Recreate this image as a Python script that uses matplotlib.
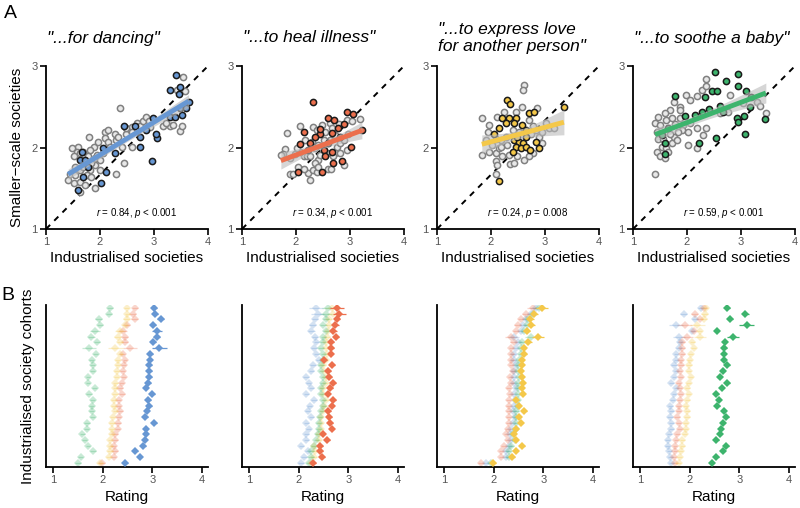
import numpy as np
import matplotlib
matplotlib.use('Agg')
import matplotlib.pyplot as plt

plt.rcParams['font.family'] = ['Liberation Sans', 'DejaVu Sans']
plt.rcParams['mathtext.fontset'] = 'custom'
plt.rcParams['mathtext.it'] = 'Liberation Sans:italic'
plt.rcParams['mathtext.rm'] = 'Liberation Sans'

# ---------------- data ----------------
titles = ['"...for dancing"', '"...to heal illness"',
          '"...to express love\nfor another person"', '"...to soothe a baby"']
stats = [r'$r$ = 0.84, $p$ < 0.001', r'$r$ = 0.34, $p$ < 0.001',
         r'$r$ = 0.24, $p$ = 0.008', r'$r$ = 0.59, $p$ < 0.001']
colors = ['#6797d3', '#ec6f4d', '#f4c84a', '#3db46d']

# panel A: songs of the target type (hi) and the other songs (lo)
dance_hi_x = [3.40, 3.30, 3.48, 3.46, 3.64, 3.48, 3.30, 3.39, 3.51, 3.60, 2.99, 2.86, 2.74, 3.05, 3.04,
              2.65, 2.44, 2.74, 2.96, 2.28, 2.06, 2.12, 2.01, 1.66, 1.63, 1.72, 1.78, 1.69, 1.60]
dance_hi_y = [2.89, 2.71, 2.74, 2.66, 2.56, 2.49, 2.37, 2.38, 2.40, 2.48, 2.36, 2.22, 2.13, 2.12, 2.17,
              2.26, 2.26, 2.01, 1.83, 1.93, 1.99, 1.70, 1.56, 1.94, 1.85, 1.85, 1.76, 1.64, 1.48]
dance_lo_x = [3.54, 3.42, 3.57, 3.30, 3.48, 2.37, 2.28, 2.09, 2.09, 2.30, 2.44, 2.30, 1.90, 1.80, 1.60,
              1.48, 1.57, 1.51, 1.63, 1.88, 1.97, 1.81, 1.94, 2.00, 1.91, 2.00, 1.81, 1.63, 1.54, 1.44,
              1.41, 1.51, 1.63, 1.72, 1.91, 1.63, 2.15, 2.19, 2.34, 2.49, 2.59, 2.68, 2.74, 2.80, 2.86,
              2.90, 2.93, 3.17, 3.23, 3.51, 3.36, 2.49, 2.59, 2.40, 2.59, 2.15, 2.06, 1.78, 1.69, 1.84,
              1.69, 1.54, 1.75, 1.84]
dance_lo_y = [2.86, 2.71, 2.69, 2.26, 2.20, 2.49, 2.17, 2.19, 2.12, 2.09, 1.81, 1.67, 1.87, 2.13, 2.01,
              1.99, 1.95, 1.89, 1.93, 2.01, 2.07, 1.97, 1.91, 1.85, 1.79, 1.72, 1.72, 1.72, 1.76, 1.68,
              1.60, 1.56, 1.58, 1.54, 1.50, 1.46, 2.07, 2.01, 2.13, 2.17, 2.25, 2.30, 2.26, 2.32, 2.38,
              2.32, 2.25, 2.26, 2.30, 2.26, 2.28, 2.24, 2.19, 2.01, 2.01, 2.22, 1.93, 1.89, 1.95, 1.81,
              1.76, 1.66, 1.66, 1.64]

heal_hi_x = [2.32, 2.60, 2.71, 2.94, 3.06, 3.22, 2.89, 2.77, 2.66, 2.44, 2.35, 2.14, 2.07, 2.26, 2.23,
             2.51, 2.60, 2.66, 2.54, 2.69, 2.48, 2.04, 2.85, 3.02, 2.44, 2.81]
heal_hi_y = [2.56, 2.36, 2.34, 2.43, 2.41, 2.22, 2.29, 2.24, 2.18, 2.17, 2.13, 2.19, 2.04, 2.05, 1.97,
             1.97, 2.05, 1.95, 1.89, 1.81, 1.70, 1.70, 1.83, 2.01, 2.23, 2.13]
heal_lo_x = [1.84, 1.80, 1.75, 1.89, 1.98, 1.88, 1.95, 2.04, 2.26, 2.23, 2.32, 2.38, 2.41, 2.60, 2.64,
             2.88, 2.75, 2.81, 2.72, 2.57, 2.44, 2.35, 2.14, 2.07, 2.20, 2.32, 2.38, 2.48, 2.54, 2.63,
             2.66, 2.72, 2.79, 2.94, 3.03, 3.18, 2.97, 2.88, 2.94, 2.07, 2.17, 2.29, 2.41, 2.51, 2.63,
             2.01, 2.26, 2.35, 2.41, 2.14, 2.69, 2.81, 1.72]
heal_lo_y = [2.18, 1.98, 1.92, 1.87, 1.92, 1.68, 1.68, 1.76, 1.60, 1.69, 1.72, 1.70, 1.85, 1.74, 1.74,
             1.79, 2.01, 2.05, 1.93, 1.93, 1.91, 1.99, 1.89, 1.95, 1.89, 2.25, 2.21, 2.28, 2.19, 2.30,
             2.24, 2.15, 2.29, 2.34, 2.32, 2.35, 2.17, 2.09, 1.97, 2.26, 2.09, 2.07, 2.03, 2.09, 2.09,
             1.99, 1.89, 1.81, 1.76, 1.74, 1.89, 1.93, 1.91]

love_hi_x = [2.30, 2.35, 3.35, 2.70, 2.80, 2.21, 2.33, 2.46, 2.27, 2.43, 2.58, 2.64, 2.15, 2.06, 2.43,
             2.52, 2.60, 2.46, 2.55, 2.64, 2.73, 2.89, 2.83, 2.40, 2.15, 2.64, 2.49]
love_hi_y = [2.58, 2.53, 2.50, 2.42, 2.44, 2.36, 2.36, 2.36, 2.30, 2.30, 2.28, 2.21, 2.24, 2.17, 2.09,
             2.07, 2.05, 2.01, 1.99, 2.01, 1.97, 1.99, 2.07, 1.95, 1.59, 2.13, 2.13]
love_lo_x = [2.61, 2.60, 1.83, 1.83, 1.96, 2.09, 2.15, 2.09, 2.12, 2.09, 2.36, 2.61, 2.77, 2.95, 2.83,
             3.07, 3.01, 2.86, 2.58, 2.46, 2.24, 2.12, 1.96, 1.94, 2.09, 2.18, 2.27, 2.30, 2.21, 2.33,
             2.49, 2.43, 2.70, 2.89, 2.74, 2.52, 2.70, 2.77, 2.02, 2.18, 2.95, 3.17, 1.90, 2.40]
love_lo_y = [2.77, 2.71, 2.36, 1.91, 1.95, 1.93, 1.99, 1.83, 1.79, 1.68, 1.80, 1.85, 1.93, 2.05, 2.21,
             2.24, 2.30, 2.48, 2.50, 2.44, 2.44, 2.38, 2.28, 2.19, 2.11, 2.09, 2.13, 2.03, 1.89, 1.91,
             1.89, 1.81, 1.89, 2.13, 2.17, 2.19, 2.34, 2.26, 2.03, 2.01, 2.19, 2.24, 2.09, 2.21]

baby_hi_x = [2.52, 2.94, 2.73, 2.94, 1.78, 2.46, 2.55, 2.33, 3.10, 3.19, 2.61, 2.67, 2.41, 2.27, 2.15,
             1.96, 2.92, 2.95, 3.06, 3.17, 3.44, 3.07, 2.53, 2.22, 1.59, 1.53, 1.65, 1.59]
baby_hi_y = [2.93, 2.90, 2.82, 2.75, 2.63, 2.69, 2.69, 2.62, 2.69, 2.62, 2.51, 2.43, 2.47, 2.44, 2.40,
             2.39, 2.36, 2.31, 2.39, 2.50, 2.35, 2.17, 2.12, 2.06, 2.05, 2.15, 2.24, 1.92]
baby_lo_x = [1.41, 2.35, 1.98, 2.06, 2.18, 2.27, 2.36, 2.80, 3.29, 3.35, 3.46, 3.04, 1.75, 1.87, 1.69,
             1.59, 1.47, 1.41, 1.50, 1.62, 1.72, 1.87, 1.78, 1.93, 2.06, 1.90, 2.02, 2.18, 2.36, 2.30,
             2.02, 2.19, 1.44, 1.47, 1.53, 1.62, 1.72, 1.44, 1.50, 1.59, 1.65, 1.56, 1.75, 1.81, 1.69,
             1.84, 2.61, 2.76, 1.87]
baby_lo_y = [1.67, 2.84, 2.65, 2.58, 2.63, 2.71, 2.75, 2.64, 2.56, 2.51, 2.42, 2.54, 2.56, 2.50, 2.46,
             2.42, 2.37, 2.30, 2.28, 2.34, 2.36, 2.36, 2.29, 2.28, 2.30, 2.22, 2.19, 2.24, 2.24, 2.15,
             2.03, 1.99, 2.19, 2.11, 2.01, 1.99, 2.05, 1.95, 1.89, 1.87, 1.95, 2.11, 2.13, 2.09, 2.17,
             2.19, 2.42, 2.43, 2.46]

scatter_hi = [(dance_hi_x, dance_hi_y), (heal_hi_x, heal_hi_y),
              (love_hi_x, love_hi_y), (baby_hi_x, baby_hi_y)]
scatter_lo = [(dance_lo_x, dance_lo_y), (heal_lo_x, heal_lo_y),
              (love_lo_x, love_lo_y), (baby_lo_x, baby_lo_y)]

# panel B: mean rating per industrialised cohort (top row first),
# for dance / healing / love / lullaby songs, one block per rated function
rate_dancing = {
    'dance': [3.04, 3.06, 3.17, 3.02, 3.10, 3.09, 3.01, 3.14, 2.96, 2.95, 2.94, 2.94, 2.94, 2.92,
              2.87, 2.99, 2.92, 2.94, 2.89, 2.86, 3.04, 2.87, 2.87, 2.85, 2.82, 2.66, 2.75, 2.45],
    'heal': [2.65, 2.62, 2.65, 2.50, 2.40, 2.45, 2.45, 2.55, 2.40, 2.45, 2.42, 2.40, 2.42, 2.38,
             2.35, 2.38, 2.32, 2.32, 2.35, 2.32, 2.30, 2.30, 2.25, 2.25, 2.22, 2.25, 2.22, 1.98],
    'love': [2.48, 2.50, 2.48, 2.45, 2.35, 2.30, 2.35, 2.25, 2.35, 2.30, 2.30, 2.28, 2.28, 2.25,
             2.25, 2.25, 2.22, 2.22, 2.25, 2.20, 2.18, 2.18, 2.18, 2.15, 2.15, 2.15, 2.12, 1.95],
    'baby': [2.15, 2.13, 1.92, 1.95, 1.85, 1.77, 1.88, 1.72, 1.86, 1.78, 1.80, 1.80, 1.70, 1.70,
             1.84, 1.72, 1.80, 1.78, 1.78, 1.80, 1.68, 1.67, 1.58, 1.63, 1.70, 1.80, 1.55, 1.50],
}
rate_healing = {
    'dance': [2.35, 2.38, 2.32, 2.28, 2.25, 2.32, 2.35, 2.30, 2.35, 2.40, 2.28, 2.25, 2.15, 2.20,
              2.25, 2.15, 2.30, 2.22, 2.18, 2.25, 2.15, 2.20, 2.15, 2.15, 2.05, 2.18, 2.10, 2.05],
    'heal': [2.78, 2.82, 2.77, 2.74, 2.70, 2.75, 2.66, 2.65, 2.65, 2.52, 2.67, 2.60, 2.62, 2.70,
             2.64, 2.59, 2.70, 2.67, 2.60, 2.62, 2.64, 2.67, 2.49, 2.58, 2.43, 2.43, 2.47, 2.28],
    'love': [2.68, 2.70, 2.62, 2.62, 2.60, 2.58, 2.55, 2.55, 2.58, 2.55, 2.50, 2.52, 2.55, 2.55,
             2.48, 2.50, 2.55, 2.52, 2.48, 2.45, 2.45, 2.45, 2.40, 2.40, 2.30, 2.32, 2.30, 2.25],
    'baby': [2.60, 2.55, 2.55, 2.50, 2.55, 2.50, 2.48, 2.45, 2.50, 2.50, 2.45, 2.45, 2.50, 2.48,
             2.45, 2.45, 2.50, 2.50, 2.45, 2.42, 2.40, 2.40, 2.38, 2.35, 2.30, 2.25, 2.25, 2.20],
}
rate_love = {
    'dance': [2.85, 2.75, 2.65, 2.60, 2.55, 2.40, 2.50, 2.45, 2.40, 2.40, 2.45, 2.40, 2.40, 2.40,
              2.45, 2.40, 2.42, 2.40, 2.38, 2.42, 2.38, 2.35, 2.32, 2.35, 2.30, 2.25, 2.25, 1.85],
    'heal': [2.80, 2.65, 2.55, 2.48, 2.45, 2.35, 2.40, 2.35, 2.35, 2.35, 2.35, 2.38, 2.33, 2.35,
             2.30, 2.33, 2.30, 2.30, 2.30, 2.30, 2.30, 2.28, 2.25, 2.28, 2.20, 2.15, 2.15, 1.75],
    'love': [2.98, 2.82, 2.74, 2.76, 2.67, 2.89, 2.70, 2.61, 2.62, 2.57, 2.57, 2.55, 2.57, 2.59,
             2.57, 2.59, 2.45, 2.51, 2.61, 2.51, 2.55, 2.45, 2.40, 2.45, 2.57, 2.45, 2.37, 1.99],
    'baby': [2.92, 2.80, 2.70, 2.68, 2.62, 2.75, 2.58, 2.55, 2.55, 2.52, 2.50, 2.50, 2.52, 2.50,
             2.50, 2.50, 2.48, 2.48, 2.45, 2.45, 2.45, 2.45, 2.38, 2.42, 2.35, 2.30, 2.30, 1.95],
}
rate_baby = {
    'dance': [2.22, 1.88, 2.10, 1.72, 2.05, 1.78, 1.80, 1.78, 1.72, 1.72, 1.68, 1.72, 1.68, 1.62,
              1.72, 1.68, 1.65, 1.60, 1.62, 1.60, 1.62, 1.62, 1.58, 1.55, 1.55, 1.58, 1.60, 1.62],
    'heal': [2.28, 2.10, 2.20, 1.90, 2.08, 1.95, 1.85, 1.85, 1.85, 1.82, 1.82, 1.80, 1.82, 1.78,
             1.80, 1.82, 1.80, 1.78, 1.78, 1.75, 1.78, 1.80, 1.75, 1.72, 1.70, 1.70, 1.68, 1.70],
    'love': [2.32, 2.30, 2.28, 2.15, 2.20, 2.20, 2.05, 2.08, 2.02, 2.00, 1.98, 1.98, 2.02, 1.98,
             1.95, 1.98, 1.95, 1.92, 1.95, 1.95, 1.92, 1.92, 1.90, 1.85, 1.85, 1.82, 1.80, 1.78],
    'baby': [2.76, 3.12, 2.81, 3.15, 2.55, 2.88, 2.71, 2.70, 2.69, 2.69, 2.76, 2.67, 2.61, 2.76,
             2.65, 2.54, 2.59, 2.56, 2.69, 2.74, 2.67, 2.63, 2.61, 2.54, 2.74, 2.67, 2.54, 2.45],
}
# half-width of the error bars per cohort, one list per rated function
err_dancing = [0.06, 0.06, 0.07, 0.06, 0.10, 0.07, 0.06, 0.15, 0.05, 0.05, 0.05, 0.05, 0.05, 0.05,
               0.05, 0.06, 0.05, 0.05, 0.05, 0.05, 0.06, 0.05, 0.05, 0.05, 0.05, 0.06, 0.05, 0.06]
err_healing = [0.14, 0.13, 0.06, 0.07, 0.07, 0.06, 0.05, 0.06, 0.05, 0.05, 0.06, 0.05, 0.06, 0.05,
               0.05, 0.05, 0.06, 0.05, 0.05, 0.05, 0.05, 0.05, 0.05, 0.05, 0.05, 0.05, 0.06, 0.06]
err_love = [0.12, 0.07, 0.07, 0.07, 0.07, 0.12, 0.07, 0.05, 0.05, 0.05, 0.05, 0.05, 0.05, 0.05,
            0.05, 0.05, 0.05, 0.05, 0.06, 0.05, 0.05, 0.05, 0.05, 0.05, 0.06, 0.05, 0.05, 0.06]
err_baby = [0.05, 0.07, 0.06, 0.15, 0.05, 0.12, 0.05, 0.05, 0.05, 0.05, 0.06, 0.05, 0.05, 0.05,
            0.05, 0.05, 0.05, 0.05, 0.05, 0.06, 0.05, 0.05, 0.05, 0.05, 0.05, 0.05, 0.05, 0.05]

ratings = [rate_dancing, rate_healing, rate_love, rate_baby]
errors = [err_dancing, err_healing, err_love, err_baby]
song_types = ['dance', 'heal', 'love', 'baby']


def fit_with_band(x, y):
    # linear fit with a 95% confidence band for the mean
    x = np.asarray(x)
    y = np.asarray(y)
    coef = np.polyfit(x, y, 1)
    X = np.vander(x, 2)
    resid = y - X @ coef
    s2 = np.sum(resid ** 2) / (len(x) - 2)
    cov = s2 * np.linalg.inv(X.T @ X)
    xs = np.linspace(x.min(), x.max(), 100)
    Xs = np.vander(xs, 2)
    ys = Xs @ coef
    se = np.sqrt(np.einsum('ij,jk,ik->i', Xs, cov, Xs))
    return xs, ys, 1.96 * se


def style_axis(ax):
    for side in ['top', 'right']:
        ax.spines[side].set_visible(False)
    for side in ['left', 'bottom']:
        ax.spines[side].set_linewidth(1.3)
    ax.tick_params(length=4, width=1.2, labelsize=8, labelcolor='#555555', pad=2)


W, H = 800, 508
fig = plt.figure(figsize=(8, 5.08), dpi=100)
lefts = [46, 242, 437, 633]

for i in range(4):
    # ---- panel A ----
    ax = fig.add_axes([lefts[i] / W, 1 - 229 / H, 162 / W, 163 / H])
    style_axis(ax)
    ax.set_xlim(1, 4)
    ax.set_ylim(1, 3)
    ax.set_xticks([1, 2, 3, 4])
    ax.set_yticks([1, 2, 3])
    ax.plot([1, 4.03], [1, 3.02], ls=(0, (3, 3)), color='black', lw=1.4, clip_on=False, zorder=1)

    lx, ly = scatter_lo[i]
    hx, hy = scatter_hi[i]
    ax.scatter(lx, ly, s=20, facecolor='#e8e8e8', edgecolor='#808080', lw=1.1, zorder=2)
    ax.scatter(hx, hy, s=20, facecolor=colors[i], edgecolor='#1a1a1a', lw=1.1, zorder=3)

    xs, ys, band = fit_with_band(lx + hx, ly + hy)
    ax.fill_between(xs, ys - band, ys + band, color='#bbbbbb', alpha=0.6, lw=0, zorder=4)
    ax.plot(xs, ys, color=colors[i], lw=3.5, solid_capstyle='butt', zorder=5)

    ax.text(0.56, 0.1, stats[i], transform=ax.transAxes, ha='center', va='center', fontsize=7)
    fig.text((lefts[i] + 1) / W, 1 - 38 / H, titles[i], ha='left', va='center',
             fontsize=12.5, style='italic', linespacing=1.1)
    ax.set_xlabel('Industrialised societies', fontsize=11, labelpad=3)
    if i == 0:
        ax.set_ylabel('Smaller\u2212scale societies', fontsize=11, labelpad=5)

    # ---- panel B ----
    bx = fig.add_axes([lefts[i] / W, 1 - 467 / H, 162 / W, 162 / H])
    style_axis(bx)
    bx.set_xlim(0.85, 4.13)
    bx.set_xticks([1, 2, 3, 4])
    bx.set_yticks([])
    n_rows = len(errors[i])
    rows = np.arange(n_rows)
    bx.set_ylim(n_rows - 0.3, -0.5)
    for j, kind in enumerate(song_types):
        main = (j == i)
        bx.errorbar(ratings[i][kind], rows, xerr=errors[i], fmt='D', ms=4, mew=0,
                    color=colors[j], ecolor=colors[j], elinewidth=0.9,
                    alpha=1.0 if main else 0.28, zorder=5 if main else 2)
    bx.set_xlabel('Rating', fontsize=11, labelpad=3)
    if i == 0:
        bx.set_ylabel('Industrialised society cohorts', fontsize=11, labelpad=8)

fig.text(4 / W, 1 - 14 / H, 'A', fontsize=14, ha='left', va='center')
fig.text(1 / W, 1 - 295 / H, 'B', fontsize=14, ha='left', va='center')

fig.savefig('out.png', dpi=100)
